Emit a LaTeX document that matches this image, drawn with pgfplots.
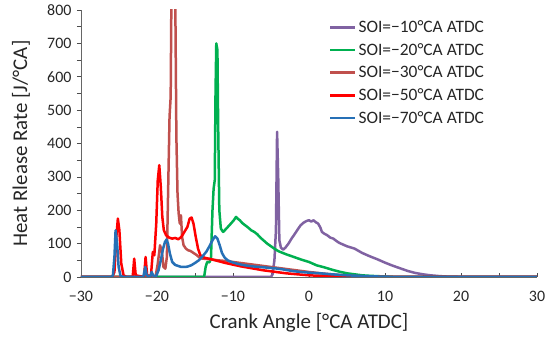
\documentclass[border=0pt]{standalone}
\usepackage{pgfplots}
\pgfplotsset{compat=1.18}
\usepackage{fontspec}
\setmainfont{Carlito}
\definecolor{cpurple}{RGB}{128,98,162}
\definecolor{cgreen}{RGB}{0,176,80}
\definecolor{cbrown}{RGB}{192,80,77}
\definecolor{cred}{RGB}{255,0,0}
\definecolor{cblue}{RGB}{38,112,182}
\begin{document}
\begin{tikzpicture}
\begin{axis}[
  name=ax,
  scale only axis, width=456bp, height=267bp,
  xmin=-30, xmax=30, ymin=0, ymax=800,
  axis x line=bottom, axis y line=left,
  axis line style={-, draw=black!60, line width=0.8pt},
  xtick={-30,-20,...,30}, minor xtick={-25,-15,...,25},
  xticklabels={−30,−20,−10,0,10,20,30},
  ytick={0,100,...,800}, minor ytick={50,150,...,750},
  x tick style={draw=black!70, line width=0.6pt},
  y tick style={draw=black!70, line width=0.6pt},
  xtick align=inside, ytick align=outside,
  major tick length=4bp, minor tick length=4bp,
  /pgf/number format/assume math mode=true,
  tick label style={font=\fontsize{16}{16}\selectfont, text=black!85},
  xticklabel style={yshift=-11bp},
  yticklabel style={xshift=-2bp},
  xlabel={Crank Angle [°CA ATDC]}, ylabel={Heat Rlease Rate [J/°CA]},
  every axis x label/.style={at={(rel axis cs:0.5,0)}, anchor=center, yshift=-46bp},
  every axis y label/.style={at={(rel axis cs:0,0.5)}, rotate=90, anchor=center, yshift=60bp},
  label style={font=\fontsize{21}{21}\selectfont, text=black!85},
  legend style={draw=none, fill=none, at={(rel axis cs:0.537,0.976)}, anchor=north west,
    font=\fontsize{17.5}{17.5}\selectfont, row sep=5.3bp, text=black!85},
  legend cell align=left,
  legend image code/.code={\draw[#1] (0bp,0bp) -- (25bp,0bp);},
  every axis plot/.append style={line width=2.5bp, line join=round, mark=none},
]
\addplot[cpurple] coordinates {(-30,0) (-5,0) (-4.8,8) (-4.55,50) (-4.35,140) (-4.2,435) (-4.05,300) (-3.9,110) (-3.7,88) (-3.4,82) (-3.1,88) (-2.7,100) (-2.3,115) (-1.9,128) (-1.5,142) (-1.1,155) (-0.7,163) (-0.3,168) (0,170) (0.3,166) (0.6,170) (0.9,164) (1.2,160) (1.5,148) (1.7,135) (2.0,130) (2.4,125) (2.8,118) (3.2,115) (3.6,108) (4,102) (4.5,97) (5,92) (6,85) (7,72) (8,62) (9,53) (10,43) (11,34) (12,26) (13,18) (14,12) (15,8) (16,5) (17,3) (18,1.5) (20,0.5) (22,0) (30,0)};
\addlegendentry{SOI=−10°CA ATDC}
\addplot[cgreen] coordinates {(-30,0) (-13.8,0) (-13.6,30) (-13.4,45) (-13.1,44) (-12.9,55) (-12.7,200) (-12.55,265) (-12.4,290) (-12.3,550) (-12.2,700) (-12.05,680) (-11.95,450) (-11.8,200) (-11.6,145) (-11.3,135) (-11.0,142) (-10.6,152) (-10.2,162) (-9.9,170) (-9.6,180) (-9.4,175) (-9.1,170) (-8.8,162) (-8.4,155) (-8.0,148) (-7.6,140) (-7.2,135) (-6.8,128) (-6.4,118) (-6.0,110) (-5.5,100) (-5.0,92) (-4.5,84) (-4.0,77) (-3.0,68) (-2.0,60) (-1.0,52) (0,45) (1,35) (2,29) (3,22) (4,16) (5,11) (6,8) (7,5) (8,3.5) (10,1.5) (12,0) (30,0)};
\addlegendentry{SOI=−20°CA ATDC}
\addplot[cbrown] coordinates {(-30,0) (-20.2,0) (-19.9,40) (-19.6,95) (-19.35,75) (-19.15,30) (-18.9,25) (-18.7,60) (-18.5,300) (-18.35,480) (-18.2,540) (-18.1,850) (-17.8,900) (-17.6,850) (-17.45,420) (-17.3,250) (-17.15,190) (-17.0,160) (-16.85,185) (-16.7,120) (-16.5,95) (-16.2,85) (-15.9,80) (-15.6,78) (-15.2,72) (-14.8,66) (-14.4,58) (-14.0,55) (-13.5,54) (-13,53) (-12,50) (-11,48) (-10,45) (-9,42) (-8,39) (-7,36) (-6,33) (-5,30) (-4,27) (-3,24) (-2,21) (-1,18) (0,15) (2,10) (4,6) (6,3) (8,1.5) (10,0.5) (12,0) (30,0)};
\addlegendentry{SOI=−30°CA ATDC}
\addplot[cred] coordinates {(-30,0) (-25.9,0) (-25.6,15) (-25.35,120) (-25.15,175) (-24.95,140) (-24.7,40) (-24.4,5) (-24,0) (-23.2,0) (-23.0,55) (-22.8,5) (-21.7,0) (-21.5,60) (-21.3,5) (-20.8,3) (-20.55,75) (-20.35,65) (-20.1,160) (-19.9,290) (-19.7,335) (-19.5,270) (-19.3,180) (-19.1,140) (-18.8,125) (-18.4,118) (-18.0,115) (-17.6,117) (-17.2,113) (-16.8,120) (-16.4,135) (-16.0,150) (-15.7,175) (-15.45,178) (-15.2,160) (-14.9,120) (-14.6,85) (-14.3,65) (-13.8,58) (-13,54) (-12,48) (-11,42) (-10,37) (-9,32) (-8,28) (-7,24) (-6,20) (-5,17) (-4,14) (-3,11) (-2,9) (-1,7) (0,5) (2,3) (4,2) (6,1) (8,0) (30,0)};
\addlegendentry{SOI=−50°CA ATDC}
\addplot[cblue] coordinates {(-30,0) (-26,0) (-25.8,5) (-25.6,60) (-25.45,140) (-25.25,100) (-25.05,30) (-24.8,3) (-24.4,0) (-21.8,0) (-21.55,30) (-21.35,5) (-20.9,0) (-20.7,15) (-20.5,4) (-20.1,3) (-19.8,20) (-19.5,50) (-19.2,85) (-18.95,105) (-18.75,112) (-18.55,100) (-18.3,70) (-18.0,45) (-17.6,36) (-17.2,33) (-16.8,30) (-16.4,30) (-16,31) (-15.5,35) (-15,42) (-14.5,50) (-14,62) (-13.5,76) (-13.1,92) (-12.7,110) (-12.35,122) (-12.05,115) (-11.75,95) (-11.45,72) (-11.1,58) (-10.7,50) (-10.2,45) (-9.5,40) (-8.5,35) (-7.5,32) (-6.5,30) (-5.5,28) (-4.5,26) (-3.5,23) (-2.5,19) (-1.5,16) (0,13) (1.5,11) (3,8) (5,5) (7,3) (9,1.5) (12,0) (30,0)};
\addlegendentry{SOI=−70°CA ATDC}
\end{axis}
\pgfresetboundingbox
\path[use as bounding box] ([xshift=-81bp,yshift=-60bp]ax.south west) rectangle ([xshift=13bp,yshift=10bp]ax.north east);
\end{tikzpicture}
\end{document}
